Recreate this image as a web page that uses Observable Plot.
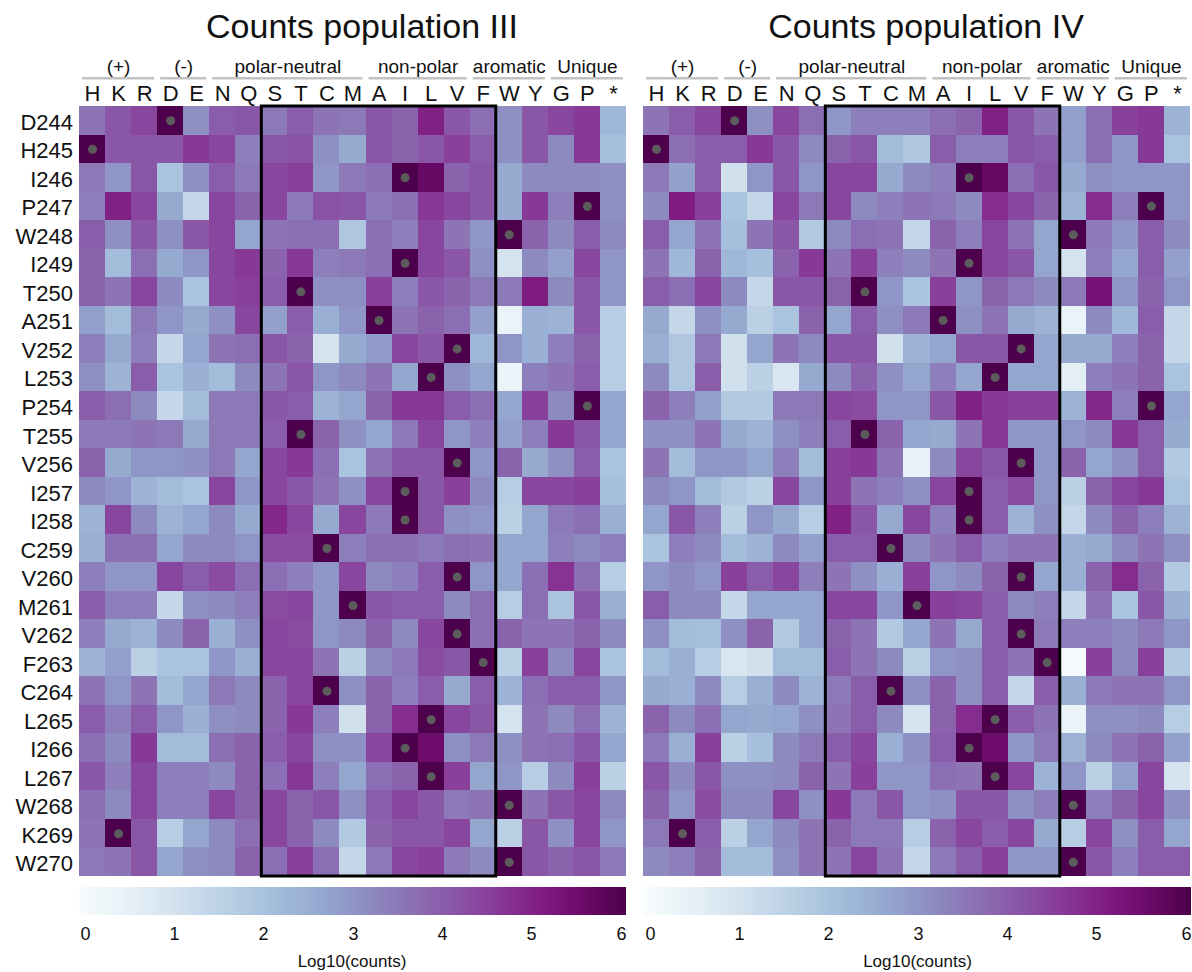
<!DOCTYPE html>
<html><head><meta charset="utf-8">
<script src="https://cdn.jsdelivr.net/npm/d3@7"></script>
<script src="https://cdn.jsdelivr.net/npm/@observablehq/plot@0.6"></script>
<style>
html,body{margin:0;padding:0;background:#fff;}
body{width:1192px;height:972px;position:relative;overflow:hidden;font-family:"Liberation Sans",Arial,sans-serif;}
#chart{position:absolute;left:0;top:0;}
.cb{position:absolute;top:887px;}
.cb svg{overflow:visible;}
.cb line{display:none;}
.cb text{font-size:18px;font-family:"Liberation Sans",Arial,sans-serif;fill:#111;}
.cblabel{position:absolute;top:952px;width:547px;text-align:center;font-size:17px;line-height:20px;color:#111;}
</style></head><body>
<div id="chart"></div>
<div class="cb" id="cb1" style="left:78.5px"></div>
<div class="cb" id="cb2" style="left:644px"></div>
<div class="cblabel" style="left:78.5px">Log10(counts)</div>
<div class="cblabel" style="left:644px">Log10(counts)</div>
<script>
const aminoAcids = ["H","K","R","D","E","N","Q","S","T","C","M","A","I","L","V","F","W","Y","G","P","*"];
const residues = ["D244","H245","I246","P247","W248","I249","T250","A251","V252","L253","P254","T255","V256","I257","I258","C259","V260","M261","V262","F263","C264","L265","I266","L267","W268","K269","W270"];
const groupLabels = ["(+)","(-)","polar-neutral","non-polar","aromatic","Unique"];
const groupFirst = ["H","D","N","A","F","G"];
const groupLast = ["R","E","M","V","Y","*"];
const boxFirst = "S", boxLast = "F";
const panels = ["III","IV"];
const panelTitles = ["Counts population III","Counts population IV"];

// log10(counts), rows = residues, columns = aminoAcids
const countsIII = [
[3.6,4.1,4.4,6,3.1,4.0,4.1,3.5,4.0,3.6,3.5,4.1,3.9,5.0,4.1,3.7,3.1,4.1,4.4,4.6,2.3],
[6,4.1,4.1,4.1,4.6,4.4,3.4,4.1,4.2,3.1,2.6,4.1,3.9,4.1,4.5,4.0,3.1,4.1,3.2,4.6,2.1],
[3.5,3.0,4.1,2.0,3.1,4.0,3.5,4.4,4.5,3.0,3.5,3.7,6,5.6,3.9,4.1,2.6,3.2,3.2,3.2,3.1],
[3.4,5.0,4.4,2.6,1.4,4.4,3.9,4.4,3.5,4.2,4.1,3.5,3.7,4.6,4.4,4.1,2.6,4.6,3.4,6,3.1],
[4.0,3.1,4.1,3.1,4.1,4.4,2.7,3.6,3.7,3.7,1.9,3.7,3.4,4.4,3.6,3.0,6,3.9,3.2,4.0,3.2],
[3.9,2.2,3.7,2.6,3.0,4.4,4.6,3.9,4.6,3.4,3.5,3.7,6,4.4,4.1,3.1,1.0,3.2,2.8,4.4,3.0],
[3.9,3.6,4.4,3.2,2.0,4.4,4.5,4.0,6,3.1,3.1,4.5,3.4,4.1,3.9,3.5,3.5,5.1,3.2,4.1,3.0],
[2.8,2.2,3.5,3.0,2.6,3.1,4.4,2.8,4.0,2.5,3.0,6,3.6,3.9,3.7,2.8,0.4,2.5,2.4,4.1,1.7],
[3.4,2.6,3.4,1.4,2.7,3.6,3.7,4.1,3.9,1.0,2.6,2.9,4.4,4.1,6,2.3,3.0,2.5,3.4,3.9,1.7],
[3.1,2.4,4.0,2.0,2.5,2.2,3.2,3.6,4.1,3.0,3.2,3.6,2.7,6,3.1,2.7,0.4,3.4,3.6,4.0,1.7],
[4.0,3.7,3.2,1.4,2.2,3.5,3.5,4.1,4.0,2.4,2.7,3.9,4.6,4.6,4.0,3.7,2.7,4.5,3.2,6,2.7],
[3.5,3.5,3.6,3.5,2.6,3.5,3.5,4.0,6,3.9,3.1,2.7,3.5,4.4,3.0,3.4,2.8,3.4,4.6,4.1,2.7],
[3.9,2.6,3.0,3.0,3.1,3.5,2.7,4.4,4.6,3.7,2.0,3.6,4.1,4.1,6,3.0,3.9,2.6,3.1,4.0,2.0],
[3.2,3.0,2.4,2.2,2.0,4.4,3.0,4.4,4.1,3.6,3.1,4.4,6,4.1,4.5,3.2,1.7,4.4,4.4,4.5,2.1],
[2.4,4.4,3.2,2.4,2.7,3.2,2.6,4.9,4.4,2.6,4.4,3.5,6,4.1,3.1,3.0,1.6,2.7,3.5,3.7,2.5],
[2.5,3.7,3.7,2.7,3.2,3.2,3.0,4.3,4.3,6,3.4,3.7,3.7,3.5,3.7,3.6,2.7,2.7,3.4,3.2,3.4],
[3.4,3.0,3.0,4.4,4.0,4.3,3.7,3.7,3.4,3.0,4.4,3.2,3.4,4.0,6,3.0,2.7,3.7,4.7,3.7,1.7],
[4.0,3.4,3.4,1.4,3.1,3.2,3.4,4.3,4.4,3.0,6,4.1,4.0,4.0,3.2,3.7,1.7,3.7,2.0,4.1,2.5],
[3.4,2.6,2.4,3.2,3.9,2.5,3.1,4.4,4.3,3.0,3.2,3.9,3.2,4.4,6,3.7,3.9,3.6,3.6,3.9,3.2],
[2.4,2.8,1.6,2.0,2.0,3.0,2.5,4.4,4.4,3.6,1.6,3.2,3.5,4.3,4.1,6,1.6,4.5,3.2,4.4,2.0],
[3.6,3.0,3.6,2.2,2.7,3.5,3.2,3.9,4.4,6,3.1,3.9,3.4,4.0,2.6,4.0,2.4,3.7,4.0,4.0,3.0],
[4.0,3.4,4.0,3.0,2.5,3.1,3.2,3.9,4.6,3.4,1.1,3.9,4.8,6,4.4,4.1,1.0,3.6,3.2,3.7,2.4],
[3.7,3.2,4.6,2.2,2.2,3.7,3.9,4.0,4.4,3.1,3.1,4.4,6,5.5,3.1,3.5,3.1,3.6,3.7,4.1,2.7],
[4.1,3.4,4.4,3.4,3.4,3.2,3.9,3.7,4.6,3.4,2.7,3.7,3.9,6,4.5,2.7,3.0,1.7,3.2,4.5,1.6],
[3.7,3.2,4.4,3.4,3.4,4.4,3.9,4.4,3.9,4.1,3.1,4.0,4.4,4.1,3.5,3.6,6,3.6,4.1,4.4,3.2],
[3.6,6,4.1,1.7,2.7,3.2,3.7,4.4,3.9,3.2,1.8,3.9,4.1,4.1,4.4,2.7,1.6,4.1,3.1,4.4,3.0],
[3.5,3.6,4.1,2.7,3.1,3.2,3.9,3.7,4.5,3.7,1.4,3.5,4.4,4.5,3.5,3.2,6,4.1,3.9,4.1,3.5]
];
const countsIV = [
[3.6,4.0,4.4,6,3.1,4.4,3.7,3.0,3.4,3.4,3.4,3.7,3.9,5.0,4.1,3.6,2.8,3.7,4.5,4.6,2.4],
[6,3.7,4.0,4.0,4.6,4.1,3.2,3.9,4.1,2.2,1.9,4.0,3.4,3.4,4.1,4.0,2.8,3.7,3.0,4.6,2.0],
[3.5,2.8,4.0,1.1,3.0,4.1,3.0,4.4,4.4,2.6,3.2,3.4,6,5.6,3.7,4.1,2.6,3.1,3.0,3.0,3.0],
[3.2,5.1,4.5,2.0,1.4,4.4,3.5,4.4,3.2,3.4,3.6,3.5,3.2,4.8,4.4,3.9,2.4,4.8,3.4,6,3.0],
[4.0,2.7,3.6,2.1,3.6,4.1,1.8,3.2,3.7,3.6,1.4,3.9,3.4,4.4,3.6,2.7,6,3.5,3.0,4.0,3.2],
[3.6,2.3,3.9,2.3,2.1,3.9,4.6,3.6,4.5,3.4,3.2,3.6,6,4.4,4.1,2.7,1.0,3.4,2.7,4.0,2.8],
[4.0,3.7,4.4,3.2,1.4,4.1,4.1,3.9,6,3.0,2.0,4.5,3.0,3.9,3.5,3.2,3.5,5.3,3.0,3.9,3.0],
[2.6,1.4,3.1,2.6,1.6,2.0,3.9,2.7,4.0,3.1,3.5,6,3.1,3.6,2.6,2.4,0.4,3.2,2.3,4.0,1.4],
[2.5,1.9,3.5,1.1,2.7,3.6,3.2,4.1,4.1,1.1,2.4,2.7,4.1,4.1,6,2.7,2.6,2.6,3.4,3.9,1.4],
[3.2,1.9,4.0,1.1,1.6,0.9,2.6,3.2,3.9,3.1,2.7,3.4,2.7,6,2.7,2.7,0.6,3.4,3.6,3.9,2.0],
[3.9,3.4,2.8,1.8,1.8,3.5,3.5,4.4,4.3,3.0,3.0,4.1,5.0,4.6,4.5,4.5,2.4,4.9,3.4,6,2.7],
[3.1,3.1,3.6,2.6,2.4,3.1,3.4,4.0,6,3.9,2.7,2.6,3.6,4.6,3.0,3.0,3.0,3.2,4.6,4.0,2.6],
[3.6,2.2,3.0,3.0,2.7,3.4,2.2,4.5,4.6,3.6,0.5,3.2,4.4,4.1,6,3.0,3.9,2.7,3.1,4.0,1.8],
[3.2,3.0,2.2,1.8,1.6,4.4,3.0,4.5,3.6,3.4,3.1,4.4,6,4.0,4.3,3.0,1.6,3.9,4.4,4.6,2.0],
[2.7,4.1,3.4,1.6,3.0,2.6,1.7,5.0,4.1,2.6,4.4,3.4,6,4.0,2.4,3.1,1.4,3.2,3.9,3.4,2.4],
[2.0,3.4,3.2,2.2,2.4,3.2,2.8,4.0,4.0,6,3.2,3.6,4.0,3.4,3.6,3.6,2.5,2.6,3.2,3.6,3.1],
[3.0,3.2,3.0,4.5,4.0,4.4,3.4,3.6,3.1,2.5,4.5,3.0,3.2,3.9,6,2.7,2.5,3.9,4.8,3.9,1.8],
[4.0,3.2,3.2,1.4,2.7,2.7,2.7,4.4,4.4,3.0,6,4.5,4.4,4.0,3.2,3.4,1.4,3.6,2.0,4.1,2.5],
[3.1,2.2,2.1,3.1,3.9,1.8,2.7,3.9,3.6,1.8,2.7,3.6,2.6,4.0,6,3.5,3.4,3.4,3.2,3.5,3.0],
[2.2,2.5,1.7,0.9,1.1,2.2,2.2,4.0,3.6,3.2,1.6,3.0,3.1,4.0,3.6,6,0.1,4.5,3.2,4.5,1.8],
[2.6,2.5,3.2,1.7,2.5,3.2,2.4,3.5,4.0,6,3.1,3.9,3.1,4.0,1.4,4.0,2.5,3.5,3.6,3.6,3.0],
[3.9,3.2,3.7,2.7,2.6,2.7,3.1,3.6,4.0,3.2,1.0,3.9,4.8,6,4.0,3.6,0.4,3.1,3.1,3.2,1.7],
[3.5,2.5,4.5,1.6,2.1,3.2,3.5,4.0,4.4,2.5,3.1,4.0,6,5.5,3.0,3.5,2.4,3.2,3.6,3.9,2.8],
[4.1,3.2,4.1,3.1,3.1,3.2,3.9,3.6,4.5,3.0,3.0,3.7,3.6,6,4.4,2.4,3.0,1.6,2.8,4.4,1.0],
[3.9,3.0,4.3,3.2,3.2,4.4,3.1,4.6,3.5,4.1,3.0,3.1,4.1,4.1,3.1,3.4,6,3.4,3.9,4.4,3.1],
[3.5,6,4.0,1.6,2.7,3.2,3.6,3.9,3.5,3.5,1.7,3.9,4.4,4.0,4.4,2.6,1.7,4.4,3.1,4.0,2.7],
[3.2,3.4,3.9,2.2,2.2,3.1,3.6,3.6,4.4,3.6,1.4,3.5,4.0,4.5,3.0,3.0,6,4.1,3.4,4.0,4.0]
];

const FONT = '"Liberation Sans", Arial, sans-serif';
const countsByPanel = [countsIII, countsIV];
const cells = [];
const wild = [];
panels.forEach((p, pi) => {
  residues.forEach((res, r) => {
    aminoAcids.forEach((aa, c) => cells.push({panel: p, row: r, col: c, value: countsByPanel[pi][r][c]}));
    wild.push({panel: p, row: r, col: aminoAcids.indexOf(res[0])});
  });
});
const groups = groupLabels.map((label, i) => ({label, start: aminoAcids.indexOf(groupFirst[i]), end: aminoAcids.indexOf(groupLast[i]) + 1}));
const box = [{start: aminoAcids.indexOf(boxFirst), end: aminoAcids.indexOf(boxLast) + 1}];
const colorOpts = {type: "linear", scheme: "bupu", domain: [0, 6]};

const chart = Plot.plot({
  width: 1192, height: 880,
  marginTop: 106, marginBottom: 4, marginLeft: 78.5, marginRight: 2,
  style: {fontFamily: FONT, color: "#111", background: "white", overflow: "visible"},
  fx: {domain: panels, padding: 0.031, paddingInner: 0.031, paddingOuter: 0, axis: null, label: null},
  x: {domain: [0, aminoAcids.length], axis: null},
  y: {domain: [0, residues.length], reverse: true, axis: null},
  color: colorOpts,
  marks: [
    Plot.rect(cells, {fx: "panel", x1: "col", x2: d => d.col + 1, y1: "row", y2: d => d.row + 1, fill: "value", shapeRendering: "crispEdges"}),
    Plot.dot(wild, {fx: "panel", x: d => d.col + 0.5, y: d => d.row + 0.5, r: 4.5, fill: "#5c5c5c", stroke: "none"}),
    Plot.rect(box, {x1: "start", x2: "end", fill: "none", stroke: "black", strokeWidth: 3}),
    Plot.axisX(aminoAcids.map((a, i) => i + 0.5), {anchor: "top", tickSize: 0, tickPadding: 6, tickFormat: d => aminoAcids[Math.floor(d)], fontSize: 22, label: null}),
    Plot.axisY(residues.map((r, i) => i + 0.5), {anchor: "left", tickSize: 0, tickPadding: 6.5, tickFormat: d => residues[Math.floor(d)], fontSize: 22, label: null, dy: 2}),
    Plot.ruleY(groups, {x1: "start", x2: "end", y: () => 0, dy: -28.3, insetLeft: 3, insetRight: 3, stroke: "#c2c2c2", strokeWidth: 2.5}),
    Plot.text(groups, {x: d => (d.start + d.end) / 2, frameAnchor: "top", lineAnchor: "middle", dy: -39.6, text: "label", fontSize: 19}),
    Plot.text(panels, {fx: d => d, text: (d, i) => panelTitles[i], frameAnchor: "top", lineAnchor: "middle", dx: 9, dy: -79, fontSize: 34})
  ]
});
document.getElementById("chart").appendChild(chart);

["cb1", "cb2"].forEach(id => {
  const lg = Plot.legend({
    color: colorOpts,
    width: 547, height: 68,
    marginTop: 0, marginBottom: 40, marginLeft: 5.5, marginRight: 5.5,
    ticks: 6, tickSize: 9, label: null,
    style: {fontFamily: FONT, fontSize: "18px", overflow: "visible"}
  });
  // let the gradient bar span the full panel width, ticks stay slightly inset as in the reference
  lg.querySelectorAll("image").forEach(img => { img.setAttribute("x", 0); img.setAttribute("width", 547); });
  document.getElementById(id).appendChild(lg);
});
</script>
</body></html>
